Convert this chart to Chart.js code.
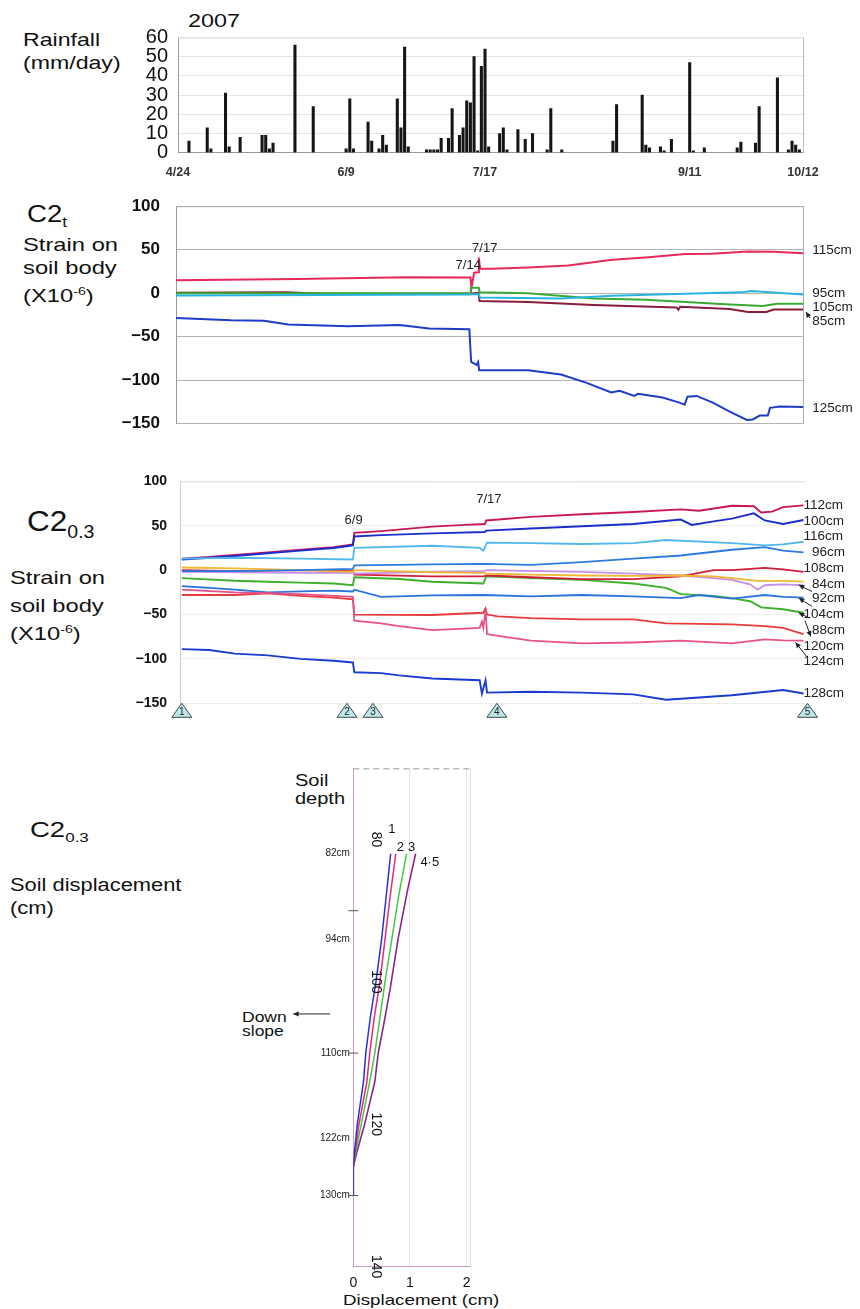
<!DOCTYPE html>
<html>
<head>
<meta charset="utf-8">
<script src="https://cdn.jsdelivr.net/npm/chart.js@4.4.1/dist/chart.umd.min.js"></script>
<style>
  body { margin: 0; background: #fff; width: 860px; height: 1309px; position: relative; overflow: hidden;
         font-family: "Liberation Sans", Arial, sans-serif; color: #111; }
  canvas { position: absolute; left: 0; }
  .t { position: absolute; white-space: nowrap; line-height: 1; transform: scaleX(1.25); transform-origin: 0 0; }
  .t sub { font-size: 0.62em; vertical-align: -0.35em; line-height: 0; }
  .t sup { font-size: 0.6em; vertical-align: 0.6em; line-height: 0; }
</style>
</head>
<body>

<div class="t" style="left:188px;top:12px;font-size:18.7px">2007</div>
<div class="t" style="left:23px;top:31px;font-size:18.5px">Rainfall</div>
<div class="t" style="left:23px;top:54px;font-size:18.5px">(mm/day)</div>

<div class="t" style="left:27px;top:202px;font-size:24px;transform:scaleX(1.15)">C2<sub>t</sub></div>
<div class="t" style="left:23px;top:235px;font-size:19px">Strain on</div>
<div class="t" style="left:23px;top:258px;font-size:19px">soil body</div>
<div class="t" style="left:23px;top:286px;font-size:19px">(X10<sup>-6</sup>)</div>

<div class="t" style="left:27px;top:506px;font-size:30px;transform:scaleX(1.05)">C2<sub>0.3</sub></div>
<div class="t" style="left:10px;top:568px;font-size:19px">Strain on</div>
<div class="t" style="left:10px;top:596px;font-size:19px">soil body</div>
<div class="t" style="left:10px;top:624px;font-size:19px">(X10<sup>-6</sup>)</div>

<div class="t" style="left:30px;top:819px;font-size:22px">C2<sub>0.3</sub></div>
<div class="t" style="left:10px;top:877px;font-size:17.5px">Soil displacement</div>
<div class="t" style="left:10px;top:900px;font-size:17.5px">(cm)</div>

<div class="t" style="left:295px;top:773px;font-size:16px">Soil</div>
<div class="t" style="left:295px;top:791px;font-size:16px">depth</div>
<div class="t" style="left:242px;top:1010px;font-size:14px">Down</div>
<div class="t" style="left:242px;top:1024px;font-size:14px">slope</div>
<div class="t" style="left:343px;top:1292px;font-size:15px">Displacement (cm)</div>

<canvas id="rain" width="860" height="178" style="top:0"></canvas>
<canvas id="c2t" width="860" height="270" style="top:180px"></canvas>
<canvas id="c03" width="860" height="270" style="top:460px"></canvas>
<canvas id="disp" width="860" height="559" style="top:750px"></canvas>

<script>
// =======================================
// Rainfall, strain and displacement, 2007
// x = days after 4/24
// =======================================

const tickDays = [0, 46, 84, 140, 171];
const tickLabels = ['4/24', '6/9', '7/17', '9/11', '10/12'];

// daily rainfall (mm/day)
const rainDays = [3, 8, 9, 13, 14, 17, 23, 24, 25, 26, 32, 37, 46, 47, 48, 52, 53, 55, 56, 57,
    60, 61, 62, 63, 68, 69, 70, 71, 72, 74, 75, 77, 78, 79, 80, 81, 82, 83, 84, 85,
    88, 89, 90, 93, 95, 97, 101, 102, 105, 119, 120, 127, 128, 129, 132, 133, 135, 140, 141, 144,
    153, 154, 158, 159, 164, 167, 168, 169, 170];
const rainMm = [6, 13, 2, 31, 3, 8, 9, 9, 2, 5, 56, 24, 2, 28, 2, 16, 6, 2, 9, 4,
    28, 13, 55, 3, 1.5, 1.5, 1.5, 1.5, 7.5, 7.5, 23, 9, 13, 27, 26, 50, 1, 45, 54, 3,
    10, 13, 1.5, 12, 7, 10, 1.5, 23, 1.5, 6, 25, 30, 4, 2.5, 3, 1, 7, 47, 1, 2.5,
    2.5, 5.5, 5, 24, 39, 1.5, 6, 4, 1.5];

// C2t strain, [day, x10^-6]
const c2t115 = [[0, 15], [33, 16.5], [63, 18.5], [80.3, 18], [80.6, 6.5], [81.3, 23.5], [82.4, 24], [82.6, 41], [82.9, 28.5],
    [86, 28], [96, 29.5], [107, 32], [119, 38.5], [128, 41], [139, 45], [146, 45.5], [156, 48], [163, 47.8], [171, 46]];
const c2t95 = [[0, -2.5], [40, -2], [80, -1.5], [82.6, -1], [82.9, -5], [105, -6], [119, -3], [139, -0.7], [154, 1],
    [157, 2.7], [162, 1], [171, -1.5]];
const c2t105 = [[0, 0], [80.2, 0], [80.4, 6.3], [82.6, 6.3], [82.8, 1], [96, 0], [114, -6], [128, -7.6], [139, -10],
    [151, -13], [160, -14.6], [164, -12], [171, -12]];
const c2t85 = [[0, 0.5], [30, 1], [40, -0.5], [80, -0.5], [82.5, 0.5], [82.8, -9], [96, -10], [114, -13.6], [136.5, -16.3],
    [137, -19], [137.5, -15.6], [151, -18], [156, -21.5], [161, -21.5], [163, -18.8], [171, -18.8]];
const c2t125 = [[0, -28.5], [15, -31], [24, -31.5], [30.6, -36], [47, -38], [61, -36.5], [69, -40.6], [80, -41.3],
    [80.5, -79], [82, -82.3], [82.4, -79], [82.7, -88.5], [96, -88.5], [105, -93.4], [112, -103], [118.7, -114],
    [121, -112], [125, -118], [126, -115.6], [132.7, -119.8], [137.3, -125.7], [138.7, -128], [139.5, -118.8],
    [142, -118], [146.4, -125.7], [151, -136], [155.7, -145.5], [157.3, -145], [159.2, -140.6], [161.4, -140.6],
    [162, -131.7], [164.7, -130], [171, -130.6]];
const c2tNames = ['115cm', '95cm', '105cm', '85cm', '125cm'];
const c2tNameY = [49.6, 0, -16.4, -32.7, -131.9];

// C2 0.3 strain, [day, x10^-6]
const s112 = [[0.5, 13], [8, 15], [15, 17], [24, 20], [33, 23], [42, 26], [47.3, 29], [47.7, 42], [55, 44], [69, 49],
    [78, 51], [83.4, 52], [83.8, 56], [96, 60], [110, 63], [124, 65.5], [137, 68.5], [142, 67], [151, 72.5],
    [157, 72], [159, 65], [162, 66], [165, 71], [170.6, 73]];
const s100 = [[0.5, 12], [8, 14], [15, 16], [24, 19], [33, 22], [42, 25], [47.3, 28], [47.7, 38], [55, 39.5], [69, 41.5],
    [83.4, 43], [83.8, 44.5], [96, 47], [110, 49.5], [124, 52], [137, 57], [140, 51], [146, 55], [151, 58],
    [157, 64], [160, 56], [165, 52], [170.6, 56.5]];
const s116 = [[0.5, 13], [15, 14], [33, 13], [47.3, 12], [47.7, 25], [69, 27.5], [82, 25], [83, 22], [84, 31], [96, 30.5],
    [110, 29.5], [124, 30.5], [133, 34], [151, 30.5], [160, 28], [165, 29], [170.6, 32]];
const s96 = [[0.5, -1], [15, -1], [33, 0], [47.3, 1.5], [47.7, 5.5], [69, 6.5], [83, 7], [96, 6], [110, 9], [124, 13],
    [137, 16.5], [151, 23], [160, 26], [165, 22], [170.6, 20]];
const s108 = [[0.5, 0], [15, -1], [33, 0], [47.3, -1], [47.7, -5], [69, -7], [83, -7], [84, -6], [96, -8], [110, -10],
    [124, -10], [137, -7], [146, 0], [151, 0], [160, 2.5], [165, 1], [170.6, -2]];
const s84 = [[0.5, 3], [15, 2], [33, 0], [47.3, -2], [47.7, 0], [69, -2.5], [83, -3], [84, -4], [96, -5], [110, -6],
    [124, -6.5], [137, -6], [146, -7], [151, -9], [158, -12], [165, -12], [170.6, -13]];
const s80 = [[0.5, -2], [33, -3], [47.3, -3], [47.7, -4], [69, -2], [83, -1], [84, 0], [110, -2], [124, -4], [137, -6],
    [146, -9], [151, -11], [156, -16], [158, -22], [160, -17], [165, -16], [170.6, -17]];
const s92 = [[0.5, -18], [8, -20], [15, -22], [24, -25], [33, -24], [42, -23], [47.3, -24], [47.7, -22], [55, -30],
    [69, -28.5], [83, -28], [96, -29.5], [110, -28], [124, -29.5], [137, -31.5], [142, -28], [151, -32],
    [160, -28], [165, -30], [170.6, -31]];
const s104 = [[0.5, -9], [15, -12], [24, -13], [33, -14], [42, -15], [47.3, -17], [47.7, -8], [60, -10], [69, -13],
    [83, -15], [83.8, -7], [96, -9], [110, -11], [124, -15], [133, -20], [137, -27], [146, -29], [151, -31.5],
    [156, -35], [159, -42], [165, -44], [170.6, -48]];
const s88 = [[0.5, -28], [15, -28], [24, -26], [33, -29], [42, -31], [47.3, -33], [47.7, -50], [69, -50.5], [83, -48],
    [83.6, -43], [84, -50], [87, -52], [96, -54], [110, -55.5], [124, -55.5], [133, -60], [151, -61], [160, -63],
    [165, -65], [170.6, -72]];
const s124 = [[0.5, -22], [15, -25], [33, -27], [47.3, -30], [47.7, -57], [55, -60], [60, -63], [69, -67.5], [82, -65],
    [82.6, -58], [83, -65], [83.6, -45], [84, -72], [87, -74], [96, -79.5], [110, -82.5], [124, -81.5],
    [137, -79.5], [151, -82.5], [160, -78], [165, -79], [170.6, -79.5]];
const s128 = [[0.5, -89], [8, -90], [15, -94], [24, -96], [33, -100], [42, -102], [47.3, -104], [47.7, -115], [55, -116],
    [60, -118.5], [69, -122], [82, -124], [82.6, -139], [83.6, -124], [84, -138], [96, -137], [110, -138],
    [124, -140], [133, -146], [151, -141], [165, -135], [170.6, -139]];
const c03Names = ['112cm', '100cm', '116cm', '96cm', '108cm', '84cm', '92cm', '104cm', '88cm', '120cm', '124cm', '128cm'];
const c03NameY = [72.9, 55.1, 37.8, 19.6, 1.8, -16, -32.2, -50, -67.8, -85.2, -103, -138.9];
const c03Indent = [0, 0, 0, 1, 0, 1, 1, 0, 1, 0, 0, 0];
const stepDays = [0.5, 45.7, 52.8, 86.7, 171.7];
const stepNames = ['1', '2', '3', '4', '5'];

// displacement profiles, [cm, depth cm]
const disp1 = [[0.66, 82], [0.58, 88], [0.5, 94], [0.4, 100], [0.3, 105], [0.22, 110], [0.18, 114], [0.07, 120], [0.02, 124], [0, 126], [0, 130]];
const disp2 = [[0.75, 82], [0.65, 88], [0.56, 94], [0.47, 100], [0.37, 105], [0.29, 110], [0.24, 114], [0.1, 120], [0.03, 124], [0, 126], [0, 130]];
const disp3 = [[0.94, 82], [0.8, 88], [0.68, 94], [0.56, 100], [0.47, 105], [0.38, 110], [0.29, 114], [0.14, 120], [0.04, 124], [0, 126], [0, 130]];
const disp45 = [[1.1, 82], [0.96, 87], [0.79, 94], [0.65, 101], [0.56, 105], [0.44, 110], [0.38, 114], [0.2, 120], [0.06, 124], [0, 126], [0, 130]];
const depthTicks = [80, 100, 120, 140];
const depthMarks = [82, 94, 110, 122, 130];

const FONT = '"Liberation Sans", Arial, sans-serif';
Chart.defaults.font.family = FONT;
Chart.defaults.color = '#111';
Chart.defaults.animation = false;
Chart.defaults.events = [];

const minus = v => String(v).replace('-', '\u2212');

// draws frame lines, text notes, arrows and step triangles
const marks = {
    id: 'marks',
    afterDraw(chart, args, o) {
        const { ctx, chartArea: a, scales: { x, y } } = chart;
        ctx.save();
        (o.frame || []).forEach(f => {
            ctx.strokeStyle = f.color;
            ctx.lineWidth = 1;
            ctx.setLineDash(f.dash || []);
            ctx.beginPath();
            if (f.side === 'top') { ctx.moveTo(a.left, a.top + 0.5); ctx.lineTo(a.right, a.top + 0.5); }
            if (f.side === 'right') { ctx.moveTo(a.right + 0.5, a.top); ctx.lineTo(a.right + 0.5, a.bottom); }
            ctx.stroke();
        });
        ctx.setLineDash([]);
        (o.ticks || []).forEach(v => {
            const py = y.getPixelForValue(v);
            ctx.strokeStyle = '#555';
            ctx.beginPath(); ctx.moveTo(a.left - 5, py); ctx.lineTo(a.left + 5, py); ctx.stroke();
        });
        (o.arrows || []).forEach(r => {
            const x1 = x.getPixelForValue(r[0]), y1 = y.getPixelForValue(r[1]);
            const x2 = x.getPixelForValue(r[2]), y2 = y.getPixelForValue(r[3]);
            const ang = Math.atan2(y2 - y1, x2 - x1);
            ctx.strokeStyle = '#222'; ctx.fillStyle = '#222'; ctx.lineWidth = 1;
            ctx.beginPath(); ctx.moveTo(x1, y1); ctx.lineTo(x2, y2); ctx.stroke();
            ctx.beginPath();
            ctx.moveTo(x2, y2);
            ctx.lineTo(x2 - 6 * Math.cos(ang - 0.45), y2 - 6 * Math.sin(ang - 0.45));
            ctx.lineTo(x2 - 6 * Math.cos(ang + 0.45), y2 - 6 * Math.sin(ang + 0.45));
            ctx.closePath(); ctx.fill();
        });
        (o.tris || []).forEach(t => {
            const px = x.getPixelForValue(t.x), py = y.getPixelForValue(t.y);
            ctx.beginPath();
            ctx.moveTo(px, py); ctx.lineTo(px + 10, py + 14); ctx.lineTo(px - 10, py + 14); ctx.closePath();
            ctx.fillStyle = '#bde6e6'; ctx.fill();
            ctx.strokeStyle = '#3c4a4a'; ctx.lineWidth = 1; ctx.stroke();
            ctx.fillStyle = '#223'; ctx.font = '10px ' + FONT;
            ctx.textAlign = 'center'; ctx.textBaseline = 'middle';
            ctx.fillText(t.text, px, py + 9);
        });
        (o.notes || []).forEach(n => {
            ctx.save();
            ctx.translate(x.getPixelForValue(n.x), y.getPixelForValue(n.y));
            if (n.rot) ctx.rotate(n.rot);
            ctx.fillStyle = n.color || '#111';
            ctx.font = n.font;
            ctx.textAlign = n.align || 'left';
            ctx.textBaseline = 'middle';
            ctx.fillText(n.text, 0, 0);
            ctx.restore();
        });
        ctx.restore();
    }
};

function line(data, color, width) {
    return { data, borderColor: color, borderWidth: width, pointRadius: 0, fill: false, tension: 0 };
}

// ---------- rainfall ----------
new Chart(document.getElementById('rain'), {
    type: 'bar',
    data: {
        datasets: [{
            data: rainDays.map((d, i) => ({ x: d, y: rainMm[i] })),
            backgroundColor: '#151515',
            barThickness: 2.4
        }]
    },
    options: {
        responsive: false,
        layout: { padding: { left: 0, right: 57, top: 37.5, bottom: 0 } },
        plugins: {
            legend: { display: false }, tooltip: { enabled: false },
            marks: { frame: [{ side: 'right', color: '#bbb' }, { side: 'top', color: '#e2e2e2' }] }
        },
        scales: {
            x: {
                type: 'linear', min: 0, max: 171, offset: false,
                afterBuildTicks: s => { s.ticks = tickDays.map(v => ({ value: v })); },
                afterFit: s => { s.height = 25.3; },
                grid: { display: false },
                border: { color: '#999' },
                ticks: {
                    autoSkip: false, maxRotation: 0, padding: 4,
                    font: { size: 12.5, weight: 'bold' }, color: '#333',
                    callback: v => tickLabels[tickDays.indexOf(v)]
                }
            },
            y: {
                min: 0, max: 60,
                afterFit: s => { s.width = 178; },
                grid: { color: '#e4e4e4', drawTicks: false },
                border: { color: '#999' },
                ticks: { stepSize: 10, autoSkip: false, padding: 10, font: { size: 20, lineHeight: 1 }, color: '#111' }
            }
        }
    },
    plugins: [marks]
});

// ---------- C2t ----------
const c2tColors = ['#e8285a', '#28b4e0', '#3aaa35', '#8a1c3c', '#1e3cc8'];
new Chart(document.getElementById('c2t'), {
    type: 'line',
    data: {
        datasets: [c2t125, c2t95, c2t105, c2t85, c2t115].map((d, i) =>
            line(d, [c2tColors[4], c2tColors[1], c2tColors[2], c2tColors[3], c2tColors[0]][i], 2))
    },
    options: {
        responsive: false,
        layout: { padding: { left: 0, right: 57, top: 18.3, bottom: 11.7 } },
        plugins: {
            legend: { display: false }, tooltip: { enabled: false },
            marks: {
                frame: [{ side: 'top', color: '#aaa' }, { side: 'right', color: '#aaa' }],
                notes: [
                    { x: 79.7, y: 32.5, text: '7/14', font: '13px ' + FONT, align: 'center', color: '#222' },
                    { x: 84.2, y: 51, text: '7/17', font: '13px ' + FONT, align: 'center', color: '#222' }
                ].concat(c2tNames.map((n, i) => ({ x: 173.5, y: c2tNameY[i], text: n, font: '13.5px ' + FONT, color: '#222' }))),
                arrows: [[172.9, -28.5, 171.8, -21.5]]
            }
        },
        scales: {
            x: { type: 'linear', min: 0, max: 171, display: false },
            y: {
                min: -150, max: 100,
                afterFit: s => { s.width = 176; },
                grid: { color: '#b4b4b4', drawTicks: false },
                border: { color: '#999', dash: [] },
                ticks: { stepSize: 50, padding: 16, font: { size: 17, weight: 'bold' }, color: '#111', callback: minus }
            }
        }
    },
    plugins: [marks]
});

// ---------- C2 0.3 strain ----------
new Chart(document.getElementById('c03'), {
    type: 'line',
    data: {
        datasets: [
            line(s128, '#1a3ad0', 1.9),
            line(s124, '#e8508a', 1.8),
            line(s88, '#e83a3a', 1.8),
            line(s92, '#2a72dc', 1.8),
            line(s116, '#50b8ec', 1.8),
            line(s96, '#2a7ae0', 1.8),
            line(s84, '#f0b830', 1.8),
            line(s80, '#c690e6', 1.8),
            line(s108, '#d01e3a', 1.8),
            line(s104, '#3cb02a', 1.9),
            line(s100, '#1a2ecc', 1.9),
            line(s112, '#c8185a', 1.9)
        ]
    },
    options: {
        responsive: false,
        layout: { padding: { left: 0, right: 55, top: 18.3, bottom: 26.7 } },
        plugins: {
            legend: { display: false }, tooltip: { enabled: false },
            marks: {
                frame: [{ side: 'top', color: '#e0e0e0' }],
                notes: [
                    { x: 47.5, y: 56, text: '6/9', font: '13px ' + FONT, align: 'center', color: '#222' },
                    { x: 84.5, y: 80, text: '7/17', font: '13px ' + FONT, align: 'center', color: '#222' }
                ].concat(c03Names.map((n, i) => ({
                    x: c03Indent[i] ? 172.9 : 170.6, y: c03NameY[i], text: n, font: '13.5px ' + FONT, color: '#222'
                }))),
                arrows: [
                    [172.9, -24.1, 169.3, -16.7],
                    [172.9, -40.7, 169.3, -31.5],
                    [172, -53.7, 169.3, -48],
                    [171, -57, 172.6, -74.8],
                    [171.6, -98, 168.4, -81.5]
                ],
                tris: stepDays.map((d, i) => ({ x: d, y: -150, text: stepNames[i] }))
            }
        },
        scales: {
            x: { type: 'linear', min: 0, max: 171, display: false },
            y: {
                min: -150, max: 100,
                afterFit: s => { s.width = 180; },
                grid: { color: '#ececec', drawTicks: false },
                border: { color: '#ccc' },
                ticks: { stepSize: 50, padding: 13, font: { size: 14, weight: 'bold' }, color: '#111', callback: minus }
            }
        }
    },
    plugins: [marks]
});

// ---------- C2 0.3 displacement ----------
new Chart(document.getElementById('disp'), {
    type: 'scatter',
    data: {
        datasets: [
            { ...line(disp1, '#2434d4', 1.5), showLine: true },
            { ...line(disp2, '#e82870', 1.5), showLine: true },
            { ...line(disp3, '#46c846', 1.5), showLine: true },
            { ...line(disp45, '#8c2488', 1.6), showLine: true }
        ]
    },
    options: {
        responsive: false,
        layout: { padding: { left: 0, right: 390, top: 18.3, bottom: 0 } },
        plugins: {
            legend: { display: false }, tooltip: { enabled: false },
            marks: {
                frame: [{ side: 'top', color: '#999', dash: [6, 4] }, { side: 'right', color: '#ddd' }],
                ticks: [90, 110, 130],
                arrows: [[-0.41, 104.5, -1.06, 104.5]],
                notes: depthTicks.map(d => ({ x: 0.4, y: d, text: String(d), font: '14px ' + FONT, align: 'center', rot: Math.PI / 2 }))
                    .concat(depthMarks.map(d => ({ x: -0.06, y: d, text: d + 'cm', font: '10px ' + FONT, align: 'right', color: '#222' })))
                    .concat([
                        { x: 0.68, y: 78.6, text: '1', font: '13px ' + FONT, align: 'center' },
                        { x: 0.83, y: 81.1, text: '2', font: '13px ' + FONT, align: 'center' },
                        { x: 1.03, y: 81.1, text: '3', font: '13px ' + FONT, align: 'center' },
                        { x: 1.35, y: 83.2, text: '4\u00b75', font: '13px ' + FONT, align: 'center' }
                    ])
            }
        },
        scales: {
            x: {
                type: 'linear', min: 0, max: 2.06,
                afterBuildTicks: s => { s.ticks = [0, 1, 2].map(v => ({ value: v })); },
                afterFit: s => { s.height = 42.3; },
                grid: { color: '#e6e6e6', drawTicks: false },
                border: { color: '#c89cc8' },
                ticks: { padding: 8, font: { size: 14 }, color: '#111' }
            },
            y: {
                type: 'linear', min: 70, max: 140, reverse: true,
                afterFit: s => { s.width = 353.3; },
                grid: { display: false },
                border: { color: '#c89cc8' },
                ticks: { display: false }
            }
        }
    },
    plugins: [marks]
});
</script>
</body>
</html>
